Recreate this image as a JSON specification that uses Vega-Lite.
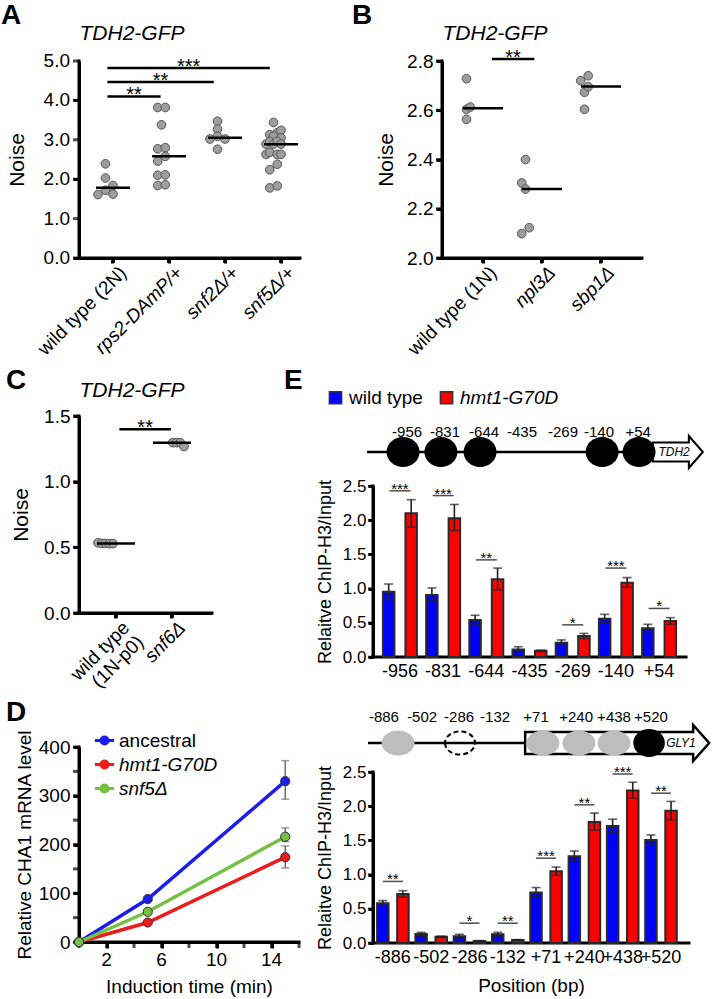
{
  "$schema": "https://vega.github.io/schema/vega-lite/v6.json",
  "background": "white",
  "padding": {"left": 1, "top": 2, "right": 0, "bottom": 0},
  "config": {
    "font": "Liberation Sans",
    "view": {"stroke": null},
    "axis": {"grid": false, "domain": true, "ticks": true, "labelOverlap": false, "labelFlush": false, "domainColor": "#000", "domainWidth": 3, "tickColor": "#000", "tickWidth": 3, "tickSize": 6, "labelColor": "#000", "labelFontSize": 19, "labelPadding": 3, "titleColor": "#000", "titleFontSize": 20, "titleFontWeight": "normal"},
    "title": {"fontSize": 28, "fontWeight": "bold", "anchor": "start", "frame": "group", "color": "#000", "baseline": "alphabetic"},
    "legend": {"labelColor": "#000", "labelFontSize": 19, "padding": 0},
    "text": {"color": "#000"}
  },
  "spacing": 8,
  "resolve": {"scale": {"color": "independent"}, "legend": {"color": "independent"}},
  "vconcat": [
    {
      "bounds": "flush",
      "spacing": 142,
      "hconcat": [
        {
          "width": 221, "height": 197,
          "title": {"text": "A", "dx": -78, "offset": -8},
          "layer": [
            {
              "data": {"values": [
                {"strain": "wild type (2N)", "lane": 0, "noise": 2.39},
                {"strain": "wild type (2N)", "lane": 0, "noise": 2.03},
                {"strain": "wild type (2N)", "lane": 2, "noise": 1.84},
                {"strain": "wild type (2N)", "lane": 0, "noise": 1.72},
                {"strain": "wild type (2N)", "lane": -2, "noise": 1.61},
                {"strain": "wild type (2N)", "lane": 2, "noise": 1.62},
                {"strain": "rps2-DAmP/+", "lane": -1, "noise": 3.82},
                {"strain": "rps2-DAmP/+", "lane": 1, "noise": 3.82},
                {"strain": "rps2-DAmP/+", "lane": 0, "noise": 3.38},
                {"strain": "rps2-DAmP/+", "lane": -1, "noise": 2.77},
                {"strain": "rps2-DAmP/+", "lane": 1, "noise": 2.80},
                {"strain": "rps2-DAmP/+", "lane": 1, "noise": 2.58},
                {"strain": "rps2-DAmP/+", "lane": -1, "noise": 2.46},
                {"strain": "rps2-DAmP/+", "lane": -1, "noise": 2.10},
                {"strain": "rps2-DAmP/+", "lane": 1, "noise": 2.11},
                {"strain": "rps2-DAmP/+", "lane": -1, "noise": 1.84},
                {"strain": "rps2-DAmP/+", "lane": 1, "noise": 1.86},
                {"strain": "snf2Δ/+", "lane": 0, "noise": 3.47},
                {"strain": "snf2Δ/+", "lane": 0, "noise": 3.27},
                {"strain": "snf2Δ/+", "lane": -2, "noise": 3.02},
                {"strain": "snf2Δ/+", "lane": 0, "noise": 3.09},
                {"strain": "snf2Δ/+", "lane": 2, "noise": 3.02},
                {"strain": "snf2Δ/+", "lane": 0, "noise": 2.76},
                {"strain": "snf5Δ/+", "lane": 0, "noise": 3.44},
                {"strain": "snf5Δ/+", "lane": -1, "noise": 3.13},
                {"strain": "snf5Δ/+", "lane": 1, "noise": 3.18},
                {"strain": "snf5Δ/+", "lane": 2, "noise": 3.24},
                {"strain": "snf5Δ/+", "lane": 0, "noise": 3.09},
                {"strain": "snf5Δ/+", "lane": 2, "noise": 3.05},
                {"strain": "snf5Δ/+", "lane": -2, "noise": 2.89},
                {"strain": "snf5Δ/+", "lane": -1, "noise": 2.96},
                {"strain": "snf5Δ/+", "lane": 0, "noise": 2.89},
                {"strain": "snf5Δ/+", "lane": 1, "noise": 2.96},
                {"strain": "snf5Δ/+", "lane": 2, "noise": 2.89},
                {"strain": "snf5Δ/+", "lane": -2, "noise": 2.63},
                {"strain": "snf5Δ/+", "lane": -1, "noise": 2.68},
                {"strain": "snf5Δ/+", "lane": 1, "noise": 2.63},
                {"strain": "snf5Δ/+", "lane": 2, "noise": 2.63},
                {"strain": "snf5Δ/+", "lane": 1, "noise": 2.38},
                {"strain": "snf5Δ/+", "lane": -1, "noise": 2.24},
                {"strain": "snf5Δ/+", "lane": -1, "noise": 1.78},
                {"strain": "snf5Δ/+", "lane": 1, "noise": 1.83}
              ]},
              "layer": [
                {
                  "mark": {"type": "circle", "size": 75, "color": "#9e9e9e", "stroke": "#555555", "strokeWidth": 1, "opacity": 1},
                  "encoding": {
                    "x": {"field": "strain", "type": "nominal", "sort": ["wild type (2N)", "rps2-DAmP/+", "snf2Δ/+", "snf5Δ/+"],
                      "scale": {"type": "band", "paddingInner": 0.464, "paddingOuter": 0.205, "align": 0.827},
                      "axis": {"title": null, "labelOverlap": false, "tickSize": 5,
                        "labelAngle": -45, "labelAlign": "right", "labelBaseline": "top", "labelOffset": 4, "labelPadding": 0,
                        "labelFontStyle": {"condition": {"test": "indexof(datum.value, 'wild') >= 0", "value": "normal"}, "value": "italic"}}},
                    "xOffset": {"field": "lane", "type": "ordinal", "scale": {"domain": [-2, -1, 0, 1, 2], "paddingInner": 0, "paddingOuter": 0}},
                    "y": {"field": "noise", "type": "quantitative", "scale": {"domain": [0, 5], "nice": false},
                      "axis": {"values": [0, 1, 2, 3, 4, 5], "labels": false, "tickSize": 6, "title": "Noise", "titleFontSize": 21, "titlePadding": 44}}
                  }
                },
                {
                  "mark": {"type": "tick", "color": "#000", "thickness": 2.5, "size": 34},
                  "encoding": {
                    "x": {"field": "strain", "type": "nominal", "sort": ["wild type (2N)", "rps2-DAmP/+", "snf2Δ/+", "snf5Δ/+"]},
                    "y": {"aggregate": "median", "field": "noise", "type": "quantitative"}
                  }
                },
                {
                  "mark": {"type": "tick", "orient": "vertical", "color": "#000", "thickness": 3, "size": 5, "yOffset": 2.5},
                  "encoding": {
                    "x": {"field": "strain", "type": "nominal", "sort": ["wild type (2N)", "rps2-DAmP/+", "snf2Δ/+", "snf5Δ/+"]},
                    "y": {"datum": 0}
                  }
                },
                {
                  "data": {"values": [{}]},
                  "mark": {"type": "rule", "color": "#000", "strokeWidth": 3, "strokeCap": "square"},
                  "encoding": {"y": {"datum": 0}}
                }
              ]
            },
            {
              "data": {"values": [
                {"bar": "a", "i": -0.1, "y": 4.10, "stars": "**"},
                {"bar": "a", "i": 0.85, "y": 4.10, "stars": "**"},
                {"bar": "b", "i": -0.1, "y": 4.47, "stars": "**"},
                {"bar": "b", "i": 1.8, "y": 4.47, "stars": "**"},
                {"bar": "c", "i": -0.1, "y": 4.82, "stars": "***"},
                {"bar": "c", "i": 2.8, "y": 4.82, "stars": "***"}
              ]},
              "layer": [
                {
                  "mark": {"type": "rule", "color": "#000", "strokeWidth": 2.5},
                  "encoding": {
                    "x": {"aggregate": "min", "field": "i", "type": "quantitative", "scale": {"domain": [-0.607, 3.339], "nice": false, "zero": false},
                      "axis": {"orient": "top", "title": "TDH2-GFP", "labels": false, "ticks": false, "domain": false, "titleFontStyle": "italic", "titleFontSize": 21, "titleAnchor": "start", "titleBaseline": "alphabetic", "titlePadding": 22}},
                    "x2": {"aggregate": "max", "field": "i"},
                    "y": {"field": "y", "type": "quantitative"},
                    "detail": {"field": "bar", "type": "nominal"}
                  }
                },
                {
                  "mark": {"type": "text", "fontSize": 20, "dy": 5, "baseline": "alphabetic"},
                  "encoding": {
                    "x": {"aggregate": "mean", "field": "i", "type": "quantitative"},
                    "y": {"field": "y", "type": "quantitative"},
                    "text": {"field": "stars", "type": "nominal"},
                    "detail": {"field": "bar", "type": "nominal"}
                  }
                },
                {
                  "data": {"values": [{}]},
                  "mark": {"type": "rule", "color": "#000", "strokeWidth": 3, "strokeCap": "square"},
                  "encoding": {"x": {"datum": -0.607}}
                },
                {
                  "data": {"values": [{"t": 0}, {"t": 1}, {"t": 2}, {"t": 3}, {"t": 4}, {"t": 5}]},
                  "layer": [
                    {
                      "mark": {"type": "tick", "orient": "horizontal", "color": "#000", "thickness": 3, "size": 6, "xOffset": -3},
                      "encoding": {"x": {"datum": -0.607}, "y": {"field": "t", "type": "quantitative", "title": "Noise"}}
                    },
                    {
                      "mark": {"type": "text", "align": "right", "baseline": "middle", "dx": -9, "fontSize": 19},
                      "encoding": {"x": {"datum": -0.607}, "y": {"field": "t", "type": "quantitative", "title": "Noise"}, "text": {"field": "t", "type": "quantitative", "format": ".1f"}}
                    }
                  ]
                }
              ]
            }
          ],
          "resolve": {"scale": {"x": "independent"}, "axis": {"x": "independent"}}
        },
        {
          "width": 200, "height": 197,
          "title": {"text": "B", "dx": -90, "offset": -8},
          "layer": [
            {
              "data": {"values": [
                {"strain": "wild type (1N)", "lane": 0, "noise": 2.728},
                {"strain": "wild type (1N)", "lane": 0, "noise": 2.604},
                {"strain": "wild type (1N)", "lane": 1, "noise": 2.613},
                {"strain": "wild type (1N)", "lane": 0, "noise": 2.563},
                {"strain": "npl3Δ", "lane": 0, "noise": 2.40},
                {"strain": "npl3Δ", "lane": -1, "noise": 2.305},
                {"strain": "npl3Δ", "lane": 0, "noise": 2.28},
                {"strain": "npl3Δ", "lane": -1, "noise": 2.099},
                {"strain": "npl3Δ", "lane": 1, "noise": 2.123},
                {"strain": "sbp1Δ", "lane": -1, "noise": 2.72},
                {"strain": "sbp1Δ", "lane": 1, "noise": 2.74},
                {"strain": "sbp1Δ", "lane": 0, "noise": 2.673},
                {"strain": "sbp1Δ", "lane": 1, "noise": 2.696},
                {"strain": "sbp1Δ", "lane": 0, "noise": 2.604}
              ]},
              "layer": [
                {
                  "mark": {"type": "circle", "size": 75, "color": "#9e9e9e", "stroke": "#555555", "strokeWidth": 1, "opacity": 1},
                  "encoding": {
                    "x": {"field": "strain", "type": "nominal", "sort": ["wild type (1N)", "npl3Δ", "sbp1Δ"],
                      "scale": {"type": "band", "paddingInner": 0.186, "paddingOuter": 0.288, "align": 0.5},
                      "axis": {"title": null, "labelOverlap": false, "tickSize": 5,
                        "labelAngle": -45, "labelAlign": "right", "labelBaseline": "top", "labelOffset": 4, "labelPadding": 0,
                        "labelFontStyle": {"condition": {"test": "indexof(datum.value, 'wild') >= 0", "value": "normal"}, "value": "italic"}}},
                    "xOffset": {"field": "lane", "type": "ordinal", "scale": {"domain": [-1, 0, 1], "paddingInner": 0, "paddingOuter": 0}},
                    "y": {"field": "noise", "type": "quantitative", "scale": {"domain": [2.0, 2.8], "nice": false, "zero": false},
                      "axis": {"values": [2.0, 2.2, 2.4, 2.6, 2.8], "format": ".1f", "labelOverlap": false, "tickSize": 6, "title": "Noise", "titleFontSize": 21, "titlePadding": 10}}
                  }
                },
                {
                  "mark": {"type": "tick", "color": "#000", "thickness": 2.5, "size": 40},
                  "encoding": {
                    "x": {"field": "strain", "type": "nominal", "sort": ["wild type (1N)", "npl3Δ", "sbp1Δ"]},
                    "y": {"aggregate": "median", "field": "noise", "type": "quantitative"}
                  }
                },
                {
                  "mark": {"type": "tick", "orient": "vertical", "color": "#000", "thickness": 3, "size": 5, "yOffset": 2.5},
                  "encoding": {
                    "x": {"field": "strain", "type": "nominal", "sort": ["wild type (1N)", "npl3Δ", "sbp1Δ"]},
                    "y": {"datum": 2.0}
                  }
                },
                {
                  "data": {"values": [{}]},
                  "mark": {"type": "rule", "color": "#000", "strokeWidth": 3, "strokeCap": "square"},
                  "encoding": {"y": {"datum": 2.0}}
                }
              ]
            },
            {
              "data": {"values": [
                {"bar": "a", "i": 0.15, "y": 2.808, "stars": "**"},
                {"bar": "a", "i": 0.87, "y": 2.808, "stars": "**"}
              ]},
              "layer": [
                {
                  "mark": {"type": "rule", "color": "#000", "strokeWidth": 2.5},
                  "encoding": {
                    "x": {"aggregate": "min", "field": "i", "type": "quantitative", "scale": {"domain": [-0.695, 2.695], "nice": false, "zero": false},
                      "axis": {"orient": "top", "title": "TDH2-GFP", "labels": false, "ticks": false, "domain": false, "titleFontStyle": "italic", "titleFontSize": 21, "titleAnchor": "start", "titleBaseline": "alphabetic", "titlePadding": 22}},
                    "x2": {"aggregate": "max", "field": "i"},
                    "y": {"field": "y", "type": "quantitative"},
                    "detail": {"field": "bar", "type": "nominal"}
                  }
                },
                {
                  "mark": {"type": "text", "fontSize": 20, "dy": 5, "baseline": "alphabetic"},
                  "encoding": {
                    "x": {"aggregate": "mean", "field": "i", "type": "quantitative"},
                    "y": {"field": "y", "type": "quantitative"},
                    "text": {"field": "stars", "type": "nominal"},
                    "detail": {"field": "bar", "type": "nominal"}
                  }
                },
                {
                  "data": {"values": [{}]},
                  "mark": {"type": "rule", "color": "#000", "strokeWidth": 3, "strokeCap": "square"},
                  "encoding": {"x": {"datum": -0.695}}
                },
                {
                  "data": {"values": [{"t": 2.0}, {"t": 2.2}, {"t": 2.4}, {"t": 2.6}, {"t": 2.8}]},
                  "mark": {"type": "tick", "orient": "horizontal", "color": "#000", "thickness": 3, "size": 6, "xOffset": -3},
                  "encoding": {"x": {"datum": -0.695}, "y": {"field": "t", "type": "quantitative", "title": "Noise"}}
                }
              ]
            }
          ],
          "resolve": {"scale": {"x": "independent"}, "axis": {"x": "independent"}}
        }
      ]
    },
    {
      "spacing": -18,
      "resolve": {"scale": {"color": "independent"}, "legend": {"color": "independent"}},
      "hconcat": [
        {
          "bounds": "flush",
          "spacing": 134,
          "resolve": {"scale": {"color": "independent"}, "legend": {"color": "independent"}},
          "vconcat": [
            {
              "width": 133, "height": 197,
              "title": {"text": "C", "dx": -73, "offset": -16},
              "layer": [
                {
                  "data": {"values": [
                    {"strain": "wild type (1N-p0)", "lane": -2, "noise": 0.535},
                    {"strain": "wild type (1N-p0)", "lane": -1, "noise": 0.53},
                    {"strain": "wild type (1N-p0)", "lane": 0, "noise": 0.53},
                    {"strain": "wild type (1N-p0)", "lane": 1, "noise": 0.528},
                    {"strain": "wild type (1N-p0)", "lane": 2, "noise": 0.528},
                    {"strain": "snf6Δ", "lane": -1.5, "noise": 1.297},
                    {"strain": "snf6Δ", "lane": -0.5, "noise": 1.297},
                    {"strain": "snf6Δ", "lane": 0.5, "noise": 1.297},
                    {"strain": "snf6Δ", "lane": 1.5, "noise": 1.267}
                  ]},
                  "layer": [
                    {
                      "mark": {"type": "circle", "size": 75, "color": "#9e9e9e", "stroke": "#555555", "strokeWidth": 1, "opacity": 1},
                      "encoding": {
                        "x": {"field": "strain", "type": "nominal", "sort": ["wild type (1N-p0)", "snf6Δ"],
                          "scale": {"type": "band", "paddingInner": 0.357, "paddingOuter": 0.366, "align": 0.463},
                          "axis": {"title": null, "labelOverlap": false, "tickSize": 5,
                            "labelAngle": -45, "labelAlign": "right", "labelBaseline": "top", "labelOffset": 4, "labelPadding": 0, "labelLineHeight": 20,
                            "labelExpr": "datum.value == 'wild type (1N-p0)' ? ['wild type', '(1N-p0)'] : datum.label",
                            "labelFontStyle": {"condition": {"test": "indexof(datum.value, 'wild') >= 0", "value": "normal"}, "value": "italic"}}},
                        "xOffset": {"field": "lane", "type": "ordinal", "scale": {"domain": [-2, -1.5, -1, -0.5, 0, 0.5, 1, 1.5, 2], "paddingInner": 0, "paddingOuter": 0}},
                        "y": {"field": "noise", "type": "quantitative", "scale": {"domain": [0, 1.5], "nice": false},
                          "axis": {"values": [0, 0.5, 1, 1.5], "format": ".1f", "labelOverlap": false, "tickSize": 6, "title": "Noise", "titleFontSize": 21, "titlePadding": 12}}
                      }
                    },
                    {
                      "mark": {"type": "tick", "color": "#000", "thickness": 2.5, "size": 38},
                      "encoding": {
                        "x": {"field": "strain", "type": "nominal", "sort": ["wild type (1N-p0)", "snf6Δ"]},
                        "y": {"aggregate": "median", "field": "noise", "type": "quantitative"}
                      }
                    },
                    {
                      "mark": {"type": "tick", "orient": "vertical", "color": "#000", "thickness": 3, "size": 5, "yOffset": 2.5},
                      "encoding": {
                        "x": {"field": "strain", "type": "nominal", "sort": ["wild type (1N-p0)", "snf6Δ"]},
                        "y": {"datum": 0}
                      }
                    },
                    {
                      "data": {"values": [{}]},
                      "mark": {"type": "rule", "color": "#000", "strokeWidth": 3, "strokeCap": "square"},
                      "encoding": {"y": {"datum": 0}}
                    }
                  ]
                },
                {
                  "data": {"values": [
                    {"bar": "a", "i": 0.06, "y": 1.40, "stars": "**"},
                    {"bar": "a", "i": 0.98, "y": 1.40, "stars": "**"}
                  ]},
                  "layer": [
                    {
                      "mark": {"type": "rule", "color": "#000", "strokeWidth": 2.5},
                      "encoding": {
                        "x": {"aggregate": "min", "field": "i", "type": "quantitative", "scale": {"domain": [-0.661, 1.714], "nice": false, "zero": false},
                          "axis": {"orient": "top", "title": "TDH2-GFP", "labels": false, "ticks": false, "domain": false, "titleFontStyle": "italic", "titleFontSize": 21, "titleAnchor": "start", "titleBaseline": "alphabetic", "titlePadding": 20}},
                        "x2": {"aggregate": "max", "field": "i"},
                        "y": {"field": "y", "type": "quantitative"},
                        "detail": {"field": "bar", "type": "nominal"}
                      }
                    },
                    {
                      "mark": {"type": "text", "fontSize": 20, "dy": 5, "baseline": "alphabetic"},
                      "encoding": {
                        "x": {"aggregate": "mean", "field": "i", "type": "quantitative"},
                        "y": {"field": "y", "type": "quantitative"},
                        "text": {"field": "stars", "type": "nominal"},
                        "detail": {"field": "bar", "type": "nominal"}
                      }
                    },
                    {
                      "data": {"values": [{}]},
                      "mark": {"type": "rule", "color": "#000", "strokeWidth": 3, "strokeCap": "square"},
                      "encoding": {"x": {"datum": -0.661}}
                    },
                    {
                      "data": {"values": [{"t": 0}, {"t": 0.5}, {"t": 1}, {"t": 1.5}]},
                      "mark": {"type": "tick", "orient": "horizontal", "color": "#000", "thickness": 3, "size": 6, "xOffset": -3},
                      "encoding": {"x": {"datum": -0.661}, "y": {"field": "t", "type": "quantitative", "title": "Noise"}}
                    }
                  ]
                }
              ],
              "resolve": {"scale": {"x": "independent"}, "axis": {"x": "independent"}}
            },
            {
              "width": 220, "height": 195,
              "title": {"text": "D", "dx": -73, "offset": 2},
              "data": {"values": [
                {"strain": "ancestral", "time": 0, "mrna": 0},
                {"strain": "ancestral", "time": 5, "mrna": 88},
                {"strain": "ancestral", "time": 15, "mrna": 330, "lo": 293, "hi": 372},
                {"strain": "hmt1-G70D", "time": 0, "mrna": 0},
                {"strain": "hmt1-G70D", "time": 5, "mrna": 40},
                {"strain": "hmt1-G70D", "time": 15, "mrna": 174, "lo": 152, "hi": 197},
                {"strain": "snf5Δ", "time": 0, "mrna": 0},
                {"strain": "snf5Δ", "time": 5, "mrna": 62},
                {"strain": "snf5Δ", "time": 15, "mrna": 216, "lo": 206, "hi": 234}
              ]},
              "layer": [
                {
                  "data": {"values": [{}]},
                  "mark": {"type": "rule", "color": "#000", "strokeWidth": 3, "strokeCap": "square"},
                  "encoding": {"x": {"datum": 0}, "y": {"datum": 0}, "y2": {"datum": 400}}
                },
                {
                  "data": {"values": [{}]},
                  "mark": {"type": "rule", "color": "#000", "strokeWidth": 3, "strokeCap": "square"},
                  "encoding": {"x": {"datum": 0}, "x2": {"datum": 16}, "y": {"datum": 0}}
                },
                {
                  "data": {"values": [{"t": 0}, {"t": 50}, {"t": 100}, {"t": 150}, {"t": 200}, {"t": 250}, {"t": 300}, {"t": 350}, {"t": 400}]},
                  "mark": {"type": "tick", "orient": "horizontal", "color": "#000", "thickness": 3, "size": 6, "xOffset": -3},
                  "encoding": {"x": {"datum": 0}, "y": {"field": "t", "type": "quantitative", "title": "Relative CHA1 mRNA level"}}
                },
                {
                  "data": {"values": [{"t": 0}, {"t": 2}, {"t": 4}, {"t": 6}, {"t": 8}, {"t": 10}, {"t": 12}, {"t": 14}, {"t": 16}]},
                  "mark": {"type": "tick", "orient": "vertical", "color": "#000", "thickness": 3, "size": 6, "yOffset": 3},
                  "encoding": {"x": {"field": "t", "type": "quantitative", "title": "Induction time (min)"}, "y": {"datum": 0}}
                },
                {
                  "data": {"values": [{"t": 2}, {"t": 6}, {"t": 10}, {"t": 14}]},
                  "mark": {"type": "text", "align": "center", "baseline": "top", "dy": 9, "fontSize": 19},
                  "encoding": {"x": {"field": "t", "type": "quantitative", "title": "Induction time (min)"}, "y": {"datum": 0}, "text": {"field": "t", "type": "quantitative"}}
                },
                {
                  "mark": {"type": "line", "strokeWidth": 3.5},
                  "encoding": {
                    "x": {"field": "time", "type": "quantitative", "scale": {"domain": [0, 16], "nice": false},
                      "axis": {"values": [2, 6, 10, 14], "labels": false, "tickSize": 6, "title": "Induction time (min)", "titleFontSize": 19, "titlePadding": 28}},
                    "y": {"field": "mrna", "type": "quantitative", "scale": {"domain": [0, 400], "nice": false},
                      "axis": {"values": [0, 100, 200, 300, 400], "labelOverlap": false, "tickSize": 6, "title": "Relative CHA1 mRNA level", "titleFontSize": 19, "titlePadding": 4}},
                    "color": {"field": "strain", "type": "nominal",
                      "scale": {"domain": ["ancestral", "hmt1-G70D", "snf5Δ"], "range": ["#1c1cec", "#ec1c1c", "#76c044"]},
                      "legend": {"title": null, "orient": "none", "legendX": 16, "legendY": -16,
                        "symbolType": "M-2.3,0L2.3,0M0.85,0A0.85,0.85 0 1,1 -0.85,0A0.85,0.85 0 1,1 0.85,0Z",
                        "symbolSize": 70, "symbolStrokeWidth": 3, "labelFontSize": 19, "labelOffset": 5, "rowPadding": 3,
                        "encode": {"labels": {"update": {"fontStyle": {"signal": "datum.label == 'ancestral' ? 'normal' : 'italic'"}}}}}}
                  }
                },
                {
                  "transform": [{"filter": "isValid(datum.hi)"}],
                  "mark": {"type": "rule", "color": "#707070", "strokeWidth": 1.5},
                  "encoding": {
                    "x": {"field": "time", "type": "quantitative"},
                    "y": {"field": "lo", "type": "quantitative"},
                    "y2": {"field": "hi"}
                  }
                },
                {
                  "transform": [{"filter": "isValid(datum.hi)"}],
                  "mark": {"type": "tick", "orient": "horizontal", "color": "#707070", "thickness": 1.5, "size": 8},
                  "encoding": {
                    "x": {"field": "time", "type": "quantitative"},
                    "y": {"field": "hi", "type": "quantitative"}
                  }
                },
                {
                  "transform": [{"filter": "isValid(datum.lo)"}],
                  "mark": {"type": "tick", "orient": "horizontal", "color": "#707070", "thickness": 1.5, "size": 8},
                  "encoding": {
                    "x": {"field": "time", "type": "quantitative"},
                    "y": {"field": "lo", "type": "quantitative"}
                  }
                },
                {
                  "mark": {"type": "point", "filled": true, "size": 85, "stroke": "#333333", "strokeWidth": 1, "opacity": 1},
                  "encoding": {
                    "x": {"field": "time", "type": "quantitative"},
                    "y": {"field": "mrna", "type": "quantitative"},
                    "color": {"field": "strain", "type": "nominal"}
                  }
                }
              ]
            }
          ]
        },
        {
          "width": 316, "height": 527,
          "title": {"text": "E", "dx": -89, "offset": -7},
          "resolve": {"scale": {"x": "independent", "y": "independent", "xOffset": "independent"}, "axis": {"x": "independent", "y": "independent"}},
          "layer": [
            {
              "layer": [
                {
                  "data": {"values": [{"from": -0.19, "to": 9.04, "track": "map"}]},
                  "mark": {"type": "rule", "color": "#000", "strokeWidth": 2.5},
                  "encoding": {
                    "x": {"field": "from", "type": "quantitative", "scale": {"domain": [0, 10], "range": [0, 313], "nice": false, "zero": false}, "axis": null},
                    "x2": {"field": "to"},
                    "y": {"field": "track", "type": "nominal", "scale": {"type": "point", "domain": ["label", "map"], "range": [16, 36], "padding": 0}, "axis": null}
                  }
                },
                {
                  "data": {"values": [{"center": 9.74, "track": "map"}]},
                  "mark": {"type": "point", "shape": "M-25,-9.5L11,-9.5L11,-16L25,0L11,16L11,9.5L-25,9.5Z", "size": 4, "filled": true, "fill": "#ffffff", "stroke": "#000", "strokeWidth": 2, "opacity": 1},
                  "encoding": {
                    "x": {"field": "center", "type": "quantitative"},
                    "y": {"field": "track", "type": "nominal"}
                  }
                },
                {
                  "data": {"values": [
                    {"nuc": 0.96, "track": "map"},
                    {"nuc": 2.17, "track": "map"},
                    {"nuc": 3.42, "track": "map"},
                    {"nuc": 7.32, "track": "map"},
                    {"nuc": 8.50, "track": "map"}
                  ]},
                  "mark": {"type": "point", "shape": "M-1,0A1,0.91 0 1,0 1,0A1,0.91 0 1,0 -1,0Z", "size": 1089, "filled": true, "color": "#000", "opacity": 1},
                  "encoding": {
                    "x": {"field": "nuc", "type": "quantitative"},
                    "y": {"field": "track", "type": "nominal"}
                  }
                },
                {
                  "data": {"values": [{"name_at": 9.62, "track": "map", "gene": "TDH2"}]},
                  "mark": {"type": "text", "fontStyle": "italic", "fontSize": 12},
                  "encoding": {
                    "x": {"field": "name_at", "type": "quantitative"},
                    "y": {"field": "track", "type": "nominal"},
                    "text": {"field": "gene", "type": "nominal"}
                  }
                },
                {
                  "data": {"values": [
                    {"at": 1.09, "label": "-956", "track": "label"},
                    {"at": 2.30, "label": "-831", "track": "label"},
                    {"at": 3.55, "label": "-644", "track": "label"},
                    {"at": 4.76, "label": "-435", "track": "label"},
                    {"at": 6.07, "label": "-269", "track": "label"},
                    {"at": 7.22, "label": "-140", "track": "label"},
                    {"at": 8.47, "label": "+54", "track": "label"}
                  ]},
                  "mark": {"type": "text", "fontSize": 15},
                  "encoding": {
                    "x": {"field": "at", "type": "quantitative"},
                    "y": {"field": "track", "type": "nominal"},
                    "text": {"field": "label", "type": "nominal"}
                  }
                }
              ]
            },
            {
              "layer": [
                {
                  "data": {"values": [{}]},
                  "mark": {"type": "rule", "color": "#000", "strokeWidth": 3, "strokeCap": "square"},
                  "encoding": {
                    "x": {"datum": 0, "scale": {"domain": [0, 1], "range": [0, 313], "nice": false, "zero": false}, "axis": null},
                    "y": {"datum": 0, "scale": {"domain": [0, 2.5], "range": [241, 70], "nice": false}, "axis": null},
                    "y2": {"datum": 2.5}
                  }
                },
                {
                  "data": {"values": [{}]},
                  "mark": {"type": "rule", "color": "#000", "strokeWidth": 3, "strokeCap": "square"},
                  "encoding": {"x": {"datum": 0, "axis": null}, "x2": {"datum": 1}, "y": {"datum": 0, "axis": null}}
                },
                {
                  "data": {"values": [{"t": 0}, {"t": 0.5}, {"t": 1}, {"t": 1.5}, {"t": 2}, {"t": 2.5}]},
                  "mark": {"type": "tick", "orient": "horizontal", "color": "#000", "thickness": 2.5, "size": 5, "xOffset": -2.5},
                  "encoding": {"x": {"datum": 0, "axis": null}, "y": {"field": "t", "type": "quantitative", "axis": null}}
                }
              ]
            },
            {
              "layer": [
                {
                  "data": {"values": [
                    {"pos": "-956", "genotype": "wild type", "value": 0.955, "lo": 0.84, "hi": 1.067},
                    {"pos": "-956", "genotype": "hmt1-G70D", "value": 2.10, "lo": 1.90, "hi": 2.30},
                    {"pos": "-831", "genotype": "wild type", "value": 0.906, "lo": 0.82, "hi": 1.01},
                    {"pos": "-831", "genotype": "hmt1-G70D", "value": 2.03, "lo": 1.85, "hi": 2.23},
                    {"pos": "-644", "genotype": "wild type", "value": 0.54, "lo": 0.48, "hi": 0.61},
                    {"pos": "-644", "genotype": "hmt1-G70D", "value": 1.135, "lo": 0.98, "hi": 1.30},
                    {"pos": "-435", "genotype": "wild type", "value": 0.11, "lo": 0.08, "hi": 0.15},
                    {"pos": "-435", "genotype": "hmt1-G70D", "value": 0.09, "lo": 0.08, "hi": 0.10},
                    {"pos": "-269", "genotype": "wild type", "value": 0.21, "lo": 0.17, "hi": 0.25},
                    {"pos": "-269", "genotype": "hmt1-G70D", "value": 0.307, "lo": 0.27, "hi": 0.345},
                    {"pos": "-140", "genotype": "wild type", "value": 0.56, "lo": 0.50, "hi": 0.624},
                    {"pos": "-140", "genotype": "hmt1-G70D", "value": 1.087, "lo": 1.02, "hi": 1.16},
                    {"pos": "+54", "genotype": "wild type", "value": 0.42, "lo": 0.37, "hi": 0.478},
                    {"pos": "+54", "genotype": "hmt1-G70D", "value": 0.526, "lo": 0.48, "hi": 0.575}
                  ]},
                  "layer": [
                    {
                      "mark": {"type": "bar", "stroke": "#2a2a2a", "strokeWidth": 2},
                      "encoding": {
                        "x": {"field": "pos", "type": "nominal", "scale": {"type": "band", "domain": ["-956", "-831", "-644", "-435", "-269", "-140", "+54"], "range": [0, 313], "paddingInner": 0.213, "paddingOuter": 0.23},
                          "axis": {"orient": "bottom", "offset": -286, "title": null, "domain": false, "ticks": false, "labelOverlap": false, "labelAngle": 0, "labelFontSize": 18, "labelPadding": 5}},
                        "xOffset": {"field": "genotype", "type": "nominal", "scale": {"domain": ["wild type", "hmt1-G70D"], "paddingInner": 0.489, "paddingOuter": 0}},
                        "y": {"field": "value", "type": "quantitative", "scale": {"domain": [0, 2.5], "range": [241, 70], "nice": false},
                          "axis": {"orient": "left", "values": [0, 0.5, 1, 1.5, 2, 2.5], "format": ".1f", "labelOverlap": false, "tickSize": 5, "title": "Relaitve ChIP-H3/Input", "labelFontSize": 17, "titleFontSize": 18, "labelPadding": 2, "titlePadding": 8}},
                        "color": {"field": "genotype", "type": "nominal", "scale": {"domain": ["wild type", "hmt1-G70D"], "range": ["#0000ff", "#ff0000"]},
                          "legend": {"title": null, "orient": "none", "legendX": -47, "legendY": -28, "direction": "horizontal", "symbolType": "square", "symbolSize": 150, "symbolStrokeColor": "#333333", "symbolStrokeWidth": 1.5, "labelFontSize": 19, "labelOffset": 4, "columnPadding": 14,
                            "encode": {"labels": {"update": {"fontStyle": {"signal": "datum.label == 'hmt1-G70D' ? 'italic' : 'normal'"}}}}}}
                      }
                    },
                    {
                      "mark": {"type": "rule", "color": "#222222", "strokeWidth": 1.6},
                      "encoding": {
                        "x": {"field": "pos", "type": "nominal"},
                        "xOffset": {"field": "genotype", "type": "nominal"},
                        "y": {"field": "lo", "type": "quantitative"},
                        "y2": {"field": "hi"}
                      }
                    },
                    {
                      "mark": {"type": "tick", "color": "#222222", "thickness": 1.6, "size": 9},
                      "encoding": {
                        "x": {"field": "pos", "type": "nominal"},
                        "xOffset": {"field": "genotype", "type": "nominal"},
                        "y": {"field": "hi", "type": "quantitative"}
                      }
                    },
                    {
                      "mark": {"type": "tick", "color": "#222222", "thickness": 1.6, "size": 9},
                      "encoding": {
                        "x": {"field": "pos", "type": "nominal"},
                        "xOffset": {"field": "genotype", "type": "nominal"},
                        "y": {"field": "lo", "type": "quantitative"}
                      }
                    }
                  ]
                },
                {
                  "data": {"values": [
                    {"pos": "-956", "y": 2.43, "stars": "***"},
                    {"pos": "-831", "y": 2.36, "stars": "***"},
                    {"pos": "-644", "y": 1.42, "stars": "**"},
                    {"pos": "-269", "y": 0.47, "stars": "*"},
                    {"pos": "-140", "y": 1.30, "stars": "***"},
                    {"pos": "+54", "y": 0.71, "stars": "*"}
                  ]},
                  "layer": [
                    {
                      "mark": {"type": "tick", "color": "#000", "thickness": 1.5, "size": 21},
                      "encoding": {
                        "x": {"field": "pos", "type": "nominal"},
                        "y": {"field": "y", "type": "quantitative"}
                      }
                    },
                    {
                      "mark": {"type": "text", "fontSize": 15, "dy": 3, "baseline": "alphabetic"},
                      "encoding": {
                        "x": {"field": "pos", "type": "nominal"},
                        "y": {"field": "y", "type": "quantitative"},
                        "text": {"field": "stars", "type": "nominal"}
                      }
                    }
                  ]
                }
              ]
            },
            {
              "layer": [
                {
                  "data": {"values": [{"from": -0.16, "to": 4.86, "track": "map"}]},
                  "mark": {"type": "rule", "color": "#000", "strokeWidth": 2.5},
                  "encoding": {
                    "x": {"field": "from", "type": "quantitative", "scale": {"domain": [0, 10], "range": [0, 313], "nice": false, "zero": false}, "axis": null},
                    "x2": {"field": "to"},
                    "y": {"field": "track", "type": "nominal", "scale": {"type": "point", "domain": ["label", "map"], "range": [301, 327], "padding": 0}, "axis": null}
                  }
                },
                {
                  "data": {"values": [{"center": 7.80, "track": "map"}]},
                  "mark": {"type": "point", "shape": "M-92,-11L76,-11L76,-18L92,0L76,18L76,11L-92,11Z", "size": 4, "filled": true, "fill": "#ffffff", "stroke": "#000", "strokeWidth": 2.5, "opacity": 1},
                  "encoding": {
                    "x": {"field": "center", "type": "quantitative"},
                    "y": {"field": "track", "type": "nominal"}
                  }
                },
                {
                  "data": {"values": [
                    {"nuc": 0.80, "track": "map"},
                    {"nuc": 5.43, "track": "map"},
                    {"nuc": 6.58, "track": "map"},
                    {"nuc": 7.70, "track": "map"}
                  ]},
                  "mark": {"type": "point", "shape": "M-1,0A1,0.76 0 1,0 1,0A1,0.76 0 1,0 -1,0Z", "size": 1089, "filled": true, "color": "#bdbdbd", "opacity": 1},
                  "encoding": {
                    "x": {"field": "nuc", "type": "quantitative"},
                    "y": {"field": "track", "type": "nominal"}
                  }
                },
                {
                  "data": {"values": [{"nuc": 8.82, "track": "map"}]},
                  "mark": {"type": "point", "shape": "M-1,0A1,0.88 0 1,0 1,0A1,0.88 0 1,0 -1,0Z", "size": 1000, "filled": true, "color": "#000", "opacity": 1},
                  "encoding": {
                    "x": {"field": "nuc", "type": "quantitative"},
                    "y": {"field": "track", "type": "nominal"}
                  }
                },
                {
                  "data": {"values": [{"nuc": 2.78, "track": "map"}]},
                  "mark": {"type": "point", "shape": "M-1,0A1,0.77 0 1,0 1,0A1,0.77 0 1,0 -1,0Z", "size": 900, "filled": false, "stroke": "#000", "strokeWidth": 2, "strokeDash": [5, 3], "opacity": 1},
                  "encoding": {
                    "x": {"field": "nuc", "type": "quantitative"},
                    "y": {"field": "track", "type": "nominal"}
                  }
                },
                {
                  "data": {"values": [{"name_at": 9.84, "track": "map", "gene": "GLY1"}]},
                  "mark": {"type": "text", "fontStyle": "italic", "fontSize": 12},
                  "encoding": {
                    "x": {"field": "name_at", "type": "quantitative"},
                    "y": {"field": "track", "type": "nominal"},
                    "text": {"field": "gene", "type": "nominal"}
                  }
                },
                {
                  "data": {"values": [
                    {"at": 0.35, "label": "-886", "track": "label"},
                    {"at": 1.57, "label": "-502", "track": "label"},
                    {"at": 2.75, "label": "-286", "track": "label"},
                    {"at": 3.90, "label": "-132", "track": "label"},
                    {"at": 5.21, "label": "+71", "track": "label"},
                    {"at": 6.49, "label": "+240", "track": "label"},
                    {"at": 7.70, "label": "+438", "track": "label"},
                    {"at": 8.88, "label": "+520", "track": "label"}
                  ]},
                  "mark": {"type": "text", "fontSize": 15},
                  "encoding": {
                    "x": {"field": "at", "type": "quantitative"},
                    "y": {"field": "track", "type": "nominal"},
                    "text": {"field": "label", "type": "nominal"}
                  }
                }
              ]
            },
            {
              "layer": [
                {
                  "data": {"values": [{}]},
                  "mark": {"type": "rule", "color": "#000", "strokeWidth": 3, "strokeCap": "square"},
                  "encoding": {
                    "x": {"datum": 0, "scale": {"domain": [0, 1], "range": [0, 316], "nice": false, "zero": false}, "axis": null},
                    "y": {"datum": 0, "scale": {"domain": [0, 2.5], "range": [527, 356], "nice": false}, "axis": null},
                    "y2": {"datum": 2.5}
                  }
                },
                {
                  "data": {"values": [{}]},
                  "mark": {"type": "rule", "color": "#000", "strokeWidth": 3, "strokeCap": "square"},
                  "encoding": {"x": {"datum": 0, "axis": null}, "x2": {"datum": 1}, "y": {"datum": 0, "axis": null}}
                },
                {
                  "data": {"values": [{"t": 0}, {"t": 0.5}, {"t": 1}, {"t": 1.5}, {"t": 2}, {"t": 2.5}]},
                  "mark": {"type": "tick", "orient": "horizontal", "color": "#000", "thickness": 2.5, "size": 5, "xOffset": -2.5},
                  "encoding": {"x": {"datum": 0, "axis": null}, "y": {"field": "t", "type": "quantitative", "axis": null}}
                }
              ]
            },
            {
              "layer": [
                {
                  "data": {"values": [
                    {"pos": "-886", "genotype": "wild type", "value": 0.58, "lo": 0.55, "hi": 0.62},
                    {"pos": "-886", "genotype": "hmt1-G70D", "value": 0.716, "lo": 0.67, "hi": 0.765},
                    {"pos": "-502", "genotype": "wild type", "value": 0.13, "lo": 0.10, "hi": 0.156},
                    {"pos": "-502", "genotype": "hmt1-G70D", "value": 0.092, "lo": 0.08, "hi": 0.10},
                    {"pos": "-286", "genotype": "wild type", "value": 0.10, "lo": 0.075, "hi": 0.127},
                    {"pos": "-286", "genotype": "hmt1-G70D", "value": 0.03, "lo": 0.025, "hi": 0.035},
                    {"pos": "-132", "genotype": "wild type", "value": 0.127, "lo": 0.10, "hi": 0.156},
                    {"pos": "-132", "genotype": "hmt1-G70D", "value": 0.044, "lo": 0.035, "hi": 0.05},
                    {"pos": "+71", "genotype": "wild type", "value": 0.74, "lo": 0.68, "hi": 0.81},
                    {"pos": "+71", "genotype": "hmt1-G70D", "value": 1.048, "lo": 0.99, "hi": 1.11},
                    {"pos": "+240", "genotype": "wild type", "value": 1.27, "lo": 1.20, "hi": 1.345},
                    {"pos": "+240", "genotype": "hmt1-G70D", "value": 1.77, "lo": 1.65, "hi": 1.90},
                    {"pos": "+438", "genotype": "wild type", "value": 1.71, "lo": 1.62, "hi": 1.81},
                    {"pos": "+438", "genotype": "hmt1-G70D", "value": 2.23, "lo": 2.12, "hi": 2.35},
                    {"pos": "+520", "genotype": "wild type", "value": 1.505, "lo": 1.43, "hi": 1.58},
                    {"pos": "+520", "genotype": "hmt1-G70D", "value": 1.935, "lo": 1.80, "hi": 2.07}
                  ]},
                  "layer": [
                    {
                      "mark": {"type": "bar", "stroke": "#2a2a2a", "strokeWidth": 2},
                      "encoding": {
                        "x": {"field": "pos", "type": "nominal", "scale": {"type": "band", "domain": ["-886", "-502", "-286", "-132", "+71", "+240", "+438", "+520"], "range": [0, 316], "paddingInner": 0.175, "paddingOuter": 0.2125, "align": 0.25},
                          "axis": {"orient": "bottom", "offset": 0, "title": "Position (bp)", "domain": false, "ticks": false, "labelOverlap": false, "labelAngle": 0, "labelFontSize": 18, "labelPadding": 5, "titleFontSize": 19, "titlePadding": 10}},
                        "xOffset": {"field": "genotype", "type": "nominal", "scale": {"domain": ["wild type", "hmt1-G70D"], "paddingInner": 0.428, "paddingOuter": 0}},
                        "y": {"field": "value", "type": "quantitative", "scale": {"domain": [0, 2.5], "range": [527, 356], "nice": false},
                          "axis": {"orient": "left", "values": [0, 0.5, 1, 1.5, 2, 2.5], "format": ".1f", "labelOverlap": false, "tickSize": 5, "title": "Relaitve ChIP-H3/Input", "labelFontSize": 17, "titleFontSize": 18, "labelPadding": 2, "titlePadding": 8}},
                        "color": {"field": "genotype", "type": "nominal", "scale": {"domain": ["wild type", "hmt1-G70D"], "range": ["#0000ff", "#ff0000"]},
                          "legend": {"title": null, "orient": "none", "legendX": -47, "legendY": -28, "direction": "horizontal", "symbolType": "square", "symbolSize": 150, "symbolStrokeColor": "#333333", "symbolStrokeWidth": 1.5, "labelFontSize": 19, "labelOffset": 4, "columnPadding": 14,
                            "encode": {"labels": {"update": {"fontStyle": {"signal": "datum.label == 'hmt1-G70D' ? 'italic' : 'normal'"}}}}}}
                      }
                    },
                    {
                      "mark": {"type": "rule", "color": "#222222", "strokeWidth": 1.6},
                      "encoding": {
                        "x": {"field": "pos", "type": "nominal"},
                        "xOffset": {"field": "genotype", "type": "nominal"},
                        "y": {"field": "lo", "type": "quantitative"},
                        "y2": {"field": "hi"}
                      }
                    },
                    {
                      "mark": {"type": "tick", "color": "#222222", "thickness": 1.6, "size": 9},
                      "encoding": {
                        "x": {"field": "pos", "type": "nominal"},
                        "xOffset": {"field": "genotype", "type": "nominal"},
                        "y": {"field": "hi", "type": "quantitative"}
                      }
                    },
                    {
                      "mark": {"type": "tick", "color": "#222222", "thickness": 1.6, "size": 9},
                      "encoding": {
                        "x": {"field": "pos", "type": "nominal"},
                        "xOffset": {"field": "genotype", "type": "nominal"},
                        "y": {"field": "lo", "type": "quantitative"}
                      }
                    }
                  ]
                },
                {
                  "data": {"values": [
                    {"pos": "-886", "y": 0.90, "stars": "**"},
                    {"pos": "-286", "y": 0.29, "stars": "*"},
                    {"pos": "-132", "y": 0.29, "stars": "**"},
                    {"pos": "+71", "y": 1.24, "stars": "***"},
                    {"pos": "+240", "y": 2.02, "stars": "**"},
                    {"pos": "+438", "y": 2.47, "stars": "***"},
                    {"pos": "+520", "y": 2.19, "stars": "**"}
                  ]},
                  "layer": [
                    {
                      "mark": {"type": "tick", "color": "#000", "thickness": 1.5, "size": 20},
                      "encoding": {
                        "x": {"field": "pos", "type": "nominal"},
                        "y": {"field": "y", "type": "quantitative"}
                      }
                    },
                    {
                      "mark": {"type": "text", "fontSize": 15, "dy": 3, "baseline": "alphabetic"},
                      "encoding": {
                        "x": {"field": "pos", "type": "nominal"},
                        "y": {"field": "y", "type": "quantitative"},
                        "text": {"field": "stars", "type": "nominal"}
                      }
                    }
                  ]
                }
              ]
            }
          ]
        }
      ]
    }
  ]
}
